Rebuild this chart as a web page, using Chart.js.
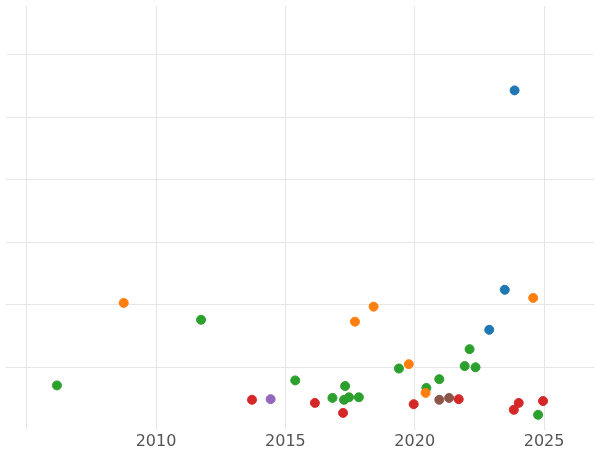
<!DOCTYPE html>
<html>
<head>
<meta charset="utf-8">
<script src="https://cdn.jsdelivr.net/npm/chart.js@4"></script>
<style>
  html, body { margin: 0; padding: 0; background: #fff; }
  #wrap { width: 600px; height: 450px; }
</style>
</head>
<body>
<div id="wrap"><canvas id="c"></canvas></div>
<script>
// valeurs (x = année, y = unités de grille)
const blueX = [2023.86, 2023.48, 2022.88];
const blueY = [5.43, 2.24, 1.60];
const orangeX = [2008.75, 2017.69, 2018.41, 2019.77, 2020.42, 2024.58];
const orangeY = [2.03, 1.73, 1.97, 1.05, 0.59, 2.11];
const greenX = [2006.17, 2011.74, 2015.38, 2016.82, 2017.31, 2017.27, 2017.46, 2017.84, 2019.39, 2020.45, 2020.95, 2021.93, 2022.12, 2022.35, 2024.77];
const greenY = [0.71, 1.76, 0.79, 0.51, 0.70, 0.48, 0.52, 0.52, 0.98, 0.67, 0.81, 1.02, 1.29, 1.00, 0.24];
const redX = [2013.71, 2016.14, 2017.23, 2019.96, 2021.70, 2023.83, 2024.02, 2024.96];
const redY = [0.48, 0.43, 0.27, 0.41, 0.49, 0.32, 0.43, 0.46];
const purpleX = [2014.43];
const purpleY = [0.49];
const brownX = [2020.95, 2021.33];
const brownY = [0.48, 0.51];
const xTicks = [2005, 2010, 2015, 2020, 2025];

const pts = (xs, ys) => xs.map((x, i) => ({ x, y: ys[i] }));
const ds = (xs, ys, color) => ({
  data: pts(xs, ys),
  backgroundColor: color,
  borderColor: color,
  pointRadius: 4.5,
  pointHoverRadius: 5
});

new Chart(document.getElementById('c'), {
  type: 'scatter',
  data: {
    datasets: [
      ds(blueX, blueY, '#1f77b4'),
      ds(orangeX, orangeY, '#ff7f0e'),
      ds(greenX, greenY, '#2ca02c'),
      ds(redX, redY, '#d62728'),
      ds(purpleX, purpleY, '#9467bd'),
      ds(brownX, brownY, '#8c564b')
    ]
  },
  options: {
    responsive: true,
    maintainAspectRatio: false,
    animation: false,
    layout: { padding: { left: -6, right: -6, top: -6, bottom: -3 } },
    plugins: { legend: { display: false }, tooltip: { enabled: false } },
    scales: {
      x: {
        type: 'linear',
        min: 2004.2,
        max: 2026.93,
        afterBuildTicks: axis => { axis.ticks = xTicks.map(v => ({ value: v })); },
        ticks: {
          color: '#555',
          font: { family: 'DejaVu Sans', size: 16 },
          callback: v => (v === 2005 ? '' : v),
          maxRotation: 0,
          padding: 2
        },
        grid: { color: '#e6e6e6', drawTicks: false },
        border: { display: false }
      },
      y: {
        min: 0,
        max: 6.78,
        afterBuildTicks: axis => { axis.ticks = [1, 2, 3, 4, 5, 6].map(v => ({ value: v })); },
        ticks: { display: false },
        grid: { color: '#e6e6e6', drawTicks: false },
        border: { display: false }
      }
    }
  }
});
</script>
</body>
</html>
